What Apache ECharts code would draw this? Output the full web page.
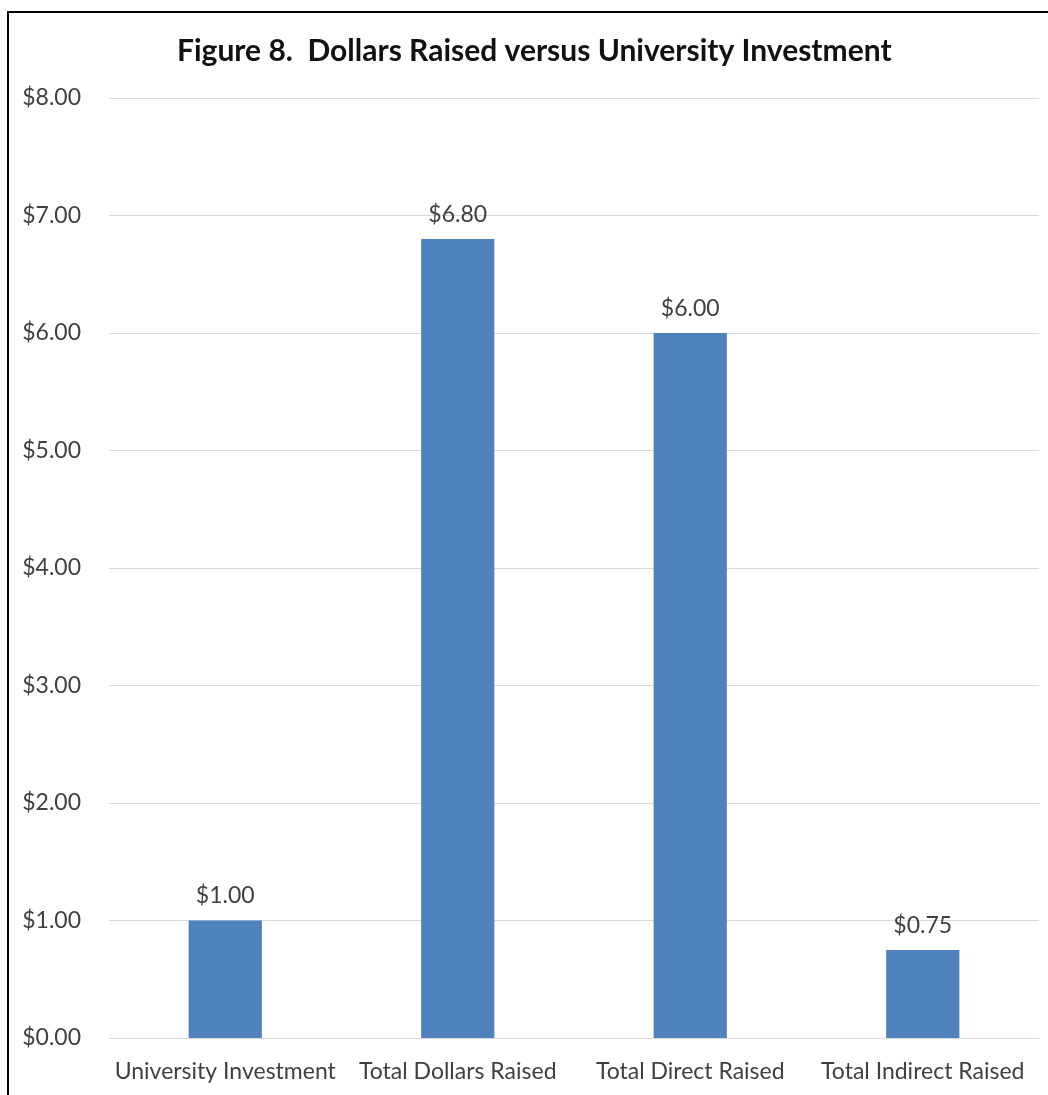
<!DOCTYPE html>
<html>
<head>
<meta charset="utf-8">
<script src="https://cdn.jsdelivr.net/npm/echarts@6/dist/echarts.min.js"></script>
<style>
html,body{margin:0;padding:0;background:#fff;}
#c{width:1048px;height:1095px;}
</style>
</head>
<body>
<div id="c"></div>
<script>
const categories = ["University Investment", "Total Dollars Raised", "Total Direct Raised", "Total Indirect Raised"];
const values = [1.00, 6.80, 6.00, 0.75];
const titleText = "Figure 8.  Dollars Raised versus University Investment";

const chart = echarts.init(document.getElementById('c'), null, {renderer: 'canvas'});
const FONT = 'Lato, "Open Sans", sans-serif';
chart.setOption({
  animation: false,
  backgroundColor: '#fff',
  title: {
    text: titleText,
    left: 177,
    top: 36,
    padding: 0,
    textStyle: {fontFamily: FONT, fontSize: 30, fontWeight: 'bold', color: '#111'}
  },
  graphic: [
    {type: 'line', shape: {x1: 8, y1: 11, x2: 8, y2: 1095}, style: {stroke: '#000', lineWidth: 2}},
    {type: 'line', shape: {x1: 7, y1: 12, x2: 1048, y2: 12}, style: {stroke: '#000', lineWidth: 2}}
  ],
  grid: {left: 109, right: 9, top: 98, bottom: 57, containLabel: false},
  xAxis: {
    type: 'category',
    data: categories,
    axisLine: {show: true, lineStyle: {color: '#d9d9d9', width: 1}},
    axisTick: {show: false},
    axisLabel: {fontFamily: FONT, fontSize: 23, color: '#404040', margin: 22, interval: 0}
  },
  yAxis: {
    type: 'value',
    min: 0, max: 8, interval: 1,
    axisLine: {show: false},
    axisTick: {show: false},
    splitLine: {lineStyle: {color: '#d9d9d9', width: 1}},
    axisLabel: {
      fontFamily: FONT, fontSize: 23, color: '#404040', margin: 28,
      formatter: v => '$' + v.toFixed(2)
    }
  },
  series: [{
    type: 'bar',
    data: values,
    barWidth: '31.5%',
    itemStyle: {color: '#4f81bd'},
    label: {
      show: true, position: 'top', distance: 13,
      fontFamily: FONT, fontSize: 23, color: '#404040',
      formatter: p => '$' + p.value.toFixed(2)
    }
  }]
});
</script>
</body>
</html>
